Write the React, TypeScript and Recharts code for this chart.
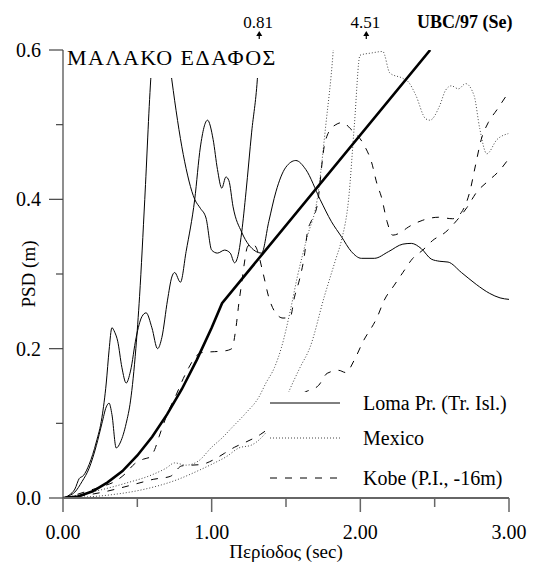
import React from 'react';
import { LineChart, Line, XAxis, YAxis, ReferenceDot } from 'recharts';

const serif = '"Liberation Serif", "Times New Roman", Times, serif';

// [T (sec), PSD (m)]
const ubcSe = [
  [0, 0], [0.1, 0.002], [0.2, 0.009], [0.3, 0.021], [0.4, 0.036], [0.5, 0.057], [0.6, 0.082],
  [0.7, 0.112], [0.8, 0.146], [0.9, 0.185], [1.0, 0.228], [1.07, 0.261], [2.47, 0.6],
];

const lomaA = [
  [0, 0], [0.042, 0.003], [0.08, 0.008], [0.128, 0.022], [0.176, 0.04], [0.224, 0.07],
  [0.262, 0.1], [0.291, 0.122], [0.31, 0.127], [0.329, 0.112], [0.358, 0.067], [0.387, 0.075],
  [0.425, 0.1], [0.454, 0.13], [0.49, 0.2], [0.515, 0.27], [0.55, 0.4], [0.59, 0.56],
  [0.66, 0.68], [0.732, 0.56], [0.809, 0.46], [0.886, 0.4], [0.924, 0.388], [0.962, 0.375],
  [1.0, 0.332], [1.039, 0.328], [1.087, 0.332], [1.125, 0.328], [1.154, 0.315], [1.183, 0.33],
  [1.202, 0.356], [1.231, 0.41], [1.269, 0.49], [1.307, 0.56], [1.346, 0.7], [1.375, 0.81],
];

const lomaB = [
  [0, 0], [0.042, 0.004], [0.08, 0.012], [0.109, 0.026], [0.137, 0.03], [0.176, 0.045],
  [0.224, 0.075], [0.262, 0.108], [0.291, 0.154], [0.31, 0.198], [0.329, 0.228], [0.348, 0.222],
  [0.368, 0.21], [0.396, 0.175], [0.425, 0.154], [0.454, 0.17], [0.492, 0.215], [0.531, 0.243],
  [0.559, 0.248], [0.598, 0.228], [0.636, 0.2], [0.665, 0.215], [0.703, 0.265], [0.732, 0.296],
  [0.751, 0.302], [0.79, 0.289], [0.828, 0.33], [0.886, 0.4], [0.924, 0.47], [0.972, 0.506],
  [1.01, 0.48], [1.039, 0.44], [1.068, 0.415], [1.096, 0.43], [1.116, 0.425], [1.144, 0.39],
  [1.202, 0.356], [1.25, 0.339], [1.336, 0.328], [1.384, 0.37], [1.432, 0.41], [1.499, 0.443],
  [1.566, 0.452], [1.633, 0.44], [1.729, 0.4], [1.806, 0.37], [1.873, 0.35], [1.94, 0.33],
  [2.007, 0.321], [2.094, 0.321], [2.19, 0.33], [2.286, 0.34], [2.343, 0.341], [2.41, 0.334],
  [2.477, 0.32], [2.535, 0.317], [2.59, 0.316], [2.68, 0.302], [2.78, 0.286], [2.87, 0.274],
  [2.94, 0.268], [3.0, 0.266],
];

const mexicoA = [
  [0, 0], [0.195, 0.008], [0.425, 0.02], [0.598, 0.031], [0.694, 0.04], [0.751, 0.047],
  [0.828, 0.044], [0.914, 0.05], [1.0, 0.068], [1.068, 0.08], [1.135, 0.094], [1.231, 0.114],
  [1.317, 0.135], [1.365, 0.154], [1.423, 0.175], [1.47, 0.202], [1.528, 0.25], [1.576, 0.296],
  [1.643, 0.35], [1.71, 0.4], [1.768, 0.5], [1.816, 0.595], [1.835, 0.65],
];

const mexicoB = [
  [0, 0], [0.31, 0.004], [0.531, 0.011], [0.761, 0.024], [0.914, 0.037], [1.029, 0.048],
  [1.096, 0.055], [1.183, 0.067], [1.269, 0.071], [1.375, 0.09], [1.47, 0.12], [1.538, 0.151],
  [1.595, 0.175], [1.662, 0.202], [1.758, 0.27], [1.835, 0.32], [1.873, 0.345], [1.921, 0.4],
  [1.96, 0.5], [1.998, 0.593], [2.075, 0.596], [2.151, 0.598], [2.199, 0.569], [2.286, 0.562],
  [2.324, 0.557], [2.372, 0.54], [2.439, 0.508], [2.468, 0.506], [2.535, 0.526], [2.573, 0.546],
  [2.612, 0.552], [2.66, 0.548], [2.708, 0.555], [2.765, 0.539], [2.803, 0.495], [2.851, 0.461],
  [2.919, 0.48], [2.995, 0.488],
];

const kobeA = [
  [0, 0], [0.08, 0.004], [0.176, 0.01], [0.272, 0.016], [0.348, 0.022], [0.416, 0.032],
  [0.483, 0.046], [0.54, 0.052], [0.588, 0.055], [0.617, 0.065], [0.646, 0.082], [0.674, 0.098],
  [0.713, 0.118], [0.761, 0.138], [0.809, 0.16], [0.847, 0.175], [0.895, 0.19], [0.943, 0.195],
  [1.02, 0.196], [1.087, 0.197], [1.135, 0.2], [1.164, 0.229], [1.183, 0.261], [1.202, 0.288],
  [1.221, 0.316], [1.24, 0.336], [1.269, 0.341], [1.298, 0.336], [1.346, 0.301], [1.384, 0.269],
  [1.423, 0.25], [1.48, 0.241], [1.528, 0.242], [1.557, 0.269], [1.595, 0.296], [1.624, 0.325],
  [1.643, 0.355], [1.672, 0.372], [1.71, 0.392], [1.758, 0.472], [1.787, 0.49], [1.835, 0.5],
  [1.883, 0.503], [1.931, 0.495], [2.027, 0.472], [2.075, 0.45], [2.113, 0.42], [2.142, 0.403],
  [2.18, 0.37], [2.218, 0.352], [2.266, 0.355], [2.324, 0.363], [2.42, 0.372], [2.525, 0.376],
  [2.621, 0.374], [2.688, 0.385], [2.736, 0.41], [2.775, 0.446], [2.813, 0.48], [2.861, 0.503],
  [2.919, 0.52], [2.976, 0.537],
];

const kobeB = [
  [0, 0], [0.128, 0.003], [0.272, 0.008], [0.416, 0.015], [0.511, 0.02], [0.607, 0.025],
  [0.722, 0.029], [0.799, 0.043], [0.866, 0.044], [0.933, 0.045], [1.02, 0.052], [1.087, 0.06],
  [1.154, 0.068], [1.231, 0.075], [1.327, 0.085], [1.423, 0.1], [1.518, 0.12], [1.614, 0.14],
  [1.72, 0.151], [1.777, 0.167], [1.854, 0.171], [1.902, 0.168], [1.96, 0.185], [2.017, 0.209],
  [2.113, 0.242], [2.161, 0.265], [2.228, 0.285], [2.286, 0.302], [2.353, 0.321], [2.42, 0.332],
  [2.487, 0.345], [2.573, 0.356], [2.65, 0.372], [2.717, 0.389], [2.784, 0.41], [2.851, 0.423],
  [2.938, 0.439], [3.0, 0.455],
];

const xTicks = [0, 0.5, 1, 1.5, 2, 2.5, 3];
const yTicks = [0, 0.1, 0.2, 0.3, 0.4, 0.5, 0.6];

// peaks that leave the top of the plot
const offScale = [
  { x: 1.32, label: '0.81' },
  { x: 2.04, label: '4.51' },
];

const records = [
  { name: 'Loma Pr. (Tr. Isl.)', stroke: '#000', dash: undefined, parts: [lomaA, lomaB] },
  { name: 'Mexico', stroke: '#444', dash: '1 2', parts: [mexicoA, mexicoB] },
  { name: 'Kobe (P.I., -16m)', stroke: '#000', dash: '7 8', parts: [kobeA, kobeB] },
];
const legendRowY = [11, 46, 86];

const toPoints = (rows: number[][]) => rows.map(([x, y]) => ({ x, y }));

const W = 547;
const H = 568;
const axisColor = '#444';

const XTick = ({ x, y, payload }: any) => {
  const v = payload.value;
  const major = Number.isInteger(v);
  return (
    <g>
      <line x1={x} y1={y} x2={x} y2={y + (major ? 14 : 9)} stroke="#666" strokeWidth={1.5} />
      {major && (
        <text x={x} y={y + 41} textAnchor="middle" fontSize={20} fontFamily={serif} fill="#000">
          {v.toFixed(2)}
        </text>
      )}
    </g>
  );
};

const YTick = ({ x, y, payload }: any) => {
  const v = payload.value;
  const major = Math.round(v * 10) % 2 === 0;
  return (
    <g>
      <line x1={x - (major ? 14 : 7)} y1={y} x2={x} y2={y} stroke={axisColor} strokeWidth={1.2} />
      {major && (
        <text x={x - 22} y={y + 7} textAnchor="end" fontSize={20} fontFamily={serif} fill="#000">
          {v.toFixed(1)}
        </text>
      )}
    </g>
  );
};

const PeakMark = ({ cx, cy, label }: any) => (
  <g>
    <text x={cx - 1} y={cy - 22} textAnchor="middle" fontSize={17} fontFamily={serif} fill="#000">
      {label}
    </text>
    <path d={`M${cx},${cy - 19} l-3,5 h6 z`} fill="#000" />
    <line x1={cx} y1={cy - 14} x2={cx} y2={cy - 11} stroke="#000" strokeWidth={1.2} />
  </g>
);

export default function App() {
  return (
    <div style={{ position: 'relative', width: W, height: H, background: '#fff', fontFamily: serif }}>
      <style>{'body{margin:0}'}</style>
      <LineChart width={W} height={H} margin={{ top: 50, right: 38, bottom: 69, left: 62 }}>
        <XAxis
          type="number"
          dataKey="x"
          domain={[0, 3]}
          ticks={xTicks}
          interval={0}
          allowDataOverflow
          height={1}
          tickSize={0}
          tickMargin={0}
          tickLine={false}
          axisLine={{ stroke: '#666', strokeWidth: 2 }}
          tick={<XTick />}
        />
        <YAxis
          type="number"
          domain={[0, 0.6]}
          ticks={yTicks}
          interval={0}
          allowDataOverflow
          width={1}
          tickSize={0}
          tickMargin={0}
          tickLine={false}
          axisLine={{ stroke: axisColor, strokeWidth: 1.2 }}
          tick={<YTick />}
        />
        {records.flatMap((r, i) =>
          r.parts.map((part, j) => (
            <Line
              key={`${i}-${j}`}
              data={toPoints(part)}
              dataKey="y"
              type="monotone"
              stroke={r.stroke}
              strokeWidth={1}
              strokeDasharray={r.dash}
              dot={false}
              activeDot={false}
              isAnimationActive={false}
            />
          ))
        )}
        <Line
          data={toPoints(ubcSe)}
          dataKey="y"
          type="linear"
          stroke="#000"
          strokeWidth={2.6}
          dot={false}
          activeDot={false}
          isAnimationActive={false}
        />
        {offScale.map((p) => (
          <ReferenceDot
            key={p.label}
            x={p.x}
            y={0.6}
            r={0}
            ifOverflow="visible"
            shape={(props: any) => <PeakMark {...props} label={p.label} />}
          />
        ))}
      </LineChart>

      {/* title box, white so it hides the curves behind it */}
      <div style={{ position: 'absolute', left: 64, top: 50, width: 226, height: 28, background: '#fff' }}>
        <div style={{ position: 'absolute', left: 3, top: -4, fontSize: 22, letterSpacing: 1.5, lineHeight: '23px', whiteSpace: 'nowrap' }}>
          ΜΑΛΑΚΟ ΕΔΑΦΟΣ
        </div>
      </div>

      <div style={{ position: 'absolute', left: 417, top: 10, fontSize: 18, fontWeight: 'bold', lineHeight: '24px', whiteSpace: 'nowrap' }}>
        UBC/97 (Se)
      </div>

      {/* legend */}
      <div style={{ position: 'absolute', left: 266, top: 392, width: 270, height: 102, background: '#fff' }}>
        {records.map((r, i) => (
          <div
            key={r.name}
            style={{ position: 'absolute', left: 0, top: legendRowY[i] - 12, height: 24, display: 'flex', alignItems: 'center', whiteSpace: 'nowrap' }}
          >
            <svg width={70} height={4} style={{ marginLeft: 4 }}>
              <line x1={0} y1={2} x2={70} y2={2} stroke={r.stroke} strokeWidth={1} strokeDasharray={r.dash} />
            </svg>
            <span style={{ marginLeft: 23, fontSize: 20 }}>{r.name}</span>
          </div>
        ))}
      </div>

      <div style={{ position: 'absolute', left: 29, top: 274, transform: 'translate(-50%, -50%) rotate(-90deg)', fontSize: 19, whiteSpace: 'nowrap' }}>
        PSD (m)
      </div>
      <div style={{ position: 'absolute', left: 286, top: 542, transform: 'translateX(-50%)', fontSize: 19, lineHeight: '20px', whiteSpace: 'nowrap' }}>
        Περίοδος (sec)
      </div>
    </div>
  );
}
